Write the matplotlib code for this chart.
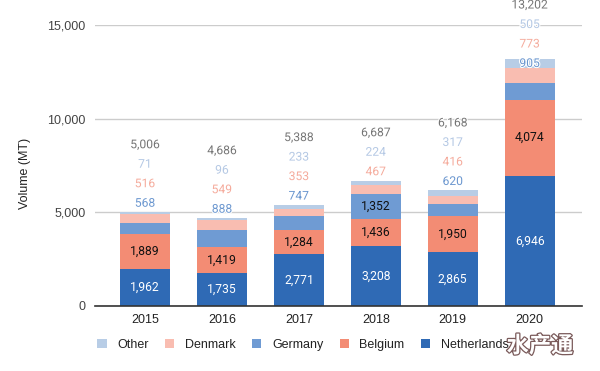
import matplotlib
matplotlib.use("Agg")
import matplotlib.pyplot as plt
from matplotlib.patches import Patch
import matplotlib.patheffects as pe

years = ["2015", "2016", "2017", "2018", "2019", "2020"]
netherlands = [1962, 1735, 2771, 3208, 2865, 6946]
belgium = [1889, 1419, 1284, 1436, 1950, 4074]
germany = [568, 888, 747, 1352, 620, 905]
denmark = [516, 549, 353, 467, 416, 773]
other = [71, 96, 233, 224, 317, 505]
totals = [5006, 4686, 5388, 6687, 6168, 13202]

series = [("Netherlands", netherlands, "#2f6ab5", "white"),
          ("Belgium", belgium, "#f38c74", "#111111"),
          ("Germany", germany, "#6f9bd3", "#111111"),
          ("Denmark", denmark, "#f9bdb1", "#111111"),
          ("Other", other, "#b8cde6", "#111111")]
outside_colors = {"Germany": "#6a96cf", "Denmark": "#f5ab9c", "Other": "#b4c8e4"}

W, H, DPI = 600, 371, 100
fig = plt.figure(figsize=(W / DPI, H / DPI), dpi=DPI)
ax = fig.add_axes([95 / W, 1 - 306 / H, (582 - 95) / W, (306 - 25) / H])

ax.set_ylim(0, 15000)
ax.set_xlim(-0.65, 5.68)
ax.set_yticks([0, 5000, 10000, 15000])
ax.set_yticklabels(["0", "5,000", "10,000", "15,000"], fontfamily="Liberation Sans",
                   fontsize=9, color="#444444")
ax.set_xticks(range(len(years)))
ax.set_xticklabels(years, fontfamily="Liberation Sans", fontsize=9, color="#222222")
ax.tick_params(axis="both", length=0)
ax.tick_params(axis="y", pad=7)
ax.tick_params(axis="x", pad=6)
ax.grid(axis="y", color="#cccccc", linewidth=1)
ax.set_axisbelow(True)
for s in ["top", "right", "left"]:
    ax.spines[s].set_visible(False)
ax.spines["bottom"].set_color("#333333")
ax.spines["bottom"].set_linewidth(1.2)
fig.text(25 / W, 1 - 173 / H, "Volume (MT)", rotation=90, ha="center", va="center",
         fontfamily="Liberation Sans", fontsize=9, color="#222222")

x = list(range(len(years)))
bottoms = [0] * len(years)
width = 0.65
lfont = dict(fontfamily="Roboto", fontsize=8.7)
outside = [[] for _ in years]
for name, vals, col, tcol in series:
    ax.bar(x, vals, width, bottom=bottoms, color=col, edgecolor="none", zorder=2)
    for i, v in enumerate(vals):
        if name in ("Netherlands", "Belgium") or v >= 1000:
            ax.text(i, bottoms[i] + v / 2, f"{v:,}", ha="center", va="center",
                    color=tcol, zorder=3, **lfont)
        else:
            outside[i].append((f"{v:,}", outside_colors[name]))
    bottoms = [b + v for b, v in zip(bottoms, vals)]

fig.canvas.draw()
for i in x:
    labels = outside[i] + [(f"{totals[i]:,}", "#757575")]
    top_px = ax.transData.transform((i, sum(s[1][i] for s in series)))[1]
    offsets = [9 + 19.5 * k for k in range(len(labels))]
    max_off = (H - 5) - top_px
    shift = max(0, offsets[-1] - max_off)
    for (txt, c), off in zip(labels, offsets):
        ax.annotate(txt, xy=(i, bottoms[i]), xytext=(0, off - shift), textcoords="offset pixels",
                    ha="center", va="center", color=c, zorder=4, annotation_clip=False,
                    path_effects=[pe.withStroke(linewidth=1.5, foreground="white")], **lfont)

handles = [Patch(facecolor=col, edgecolor="none", label=name) for name, _, col, _ in reversed(series)]
leg = fig.legend(handles=handles, loc="center left", bbox_to_anchor=(86 / W, 1 - 345 / H),
                 ncol=5, frameon=False, handlelength=0.75, handleheight=0.75,
                 handletextpad=0.85, columnspacing=1.3,
                 prop={"family": "Liberation Sans", "size": 9})
for t in leg.get_texts():
    t.set_color("#222222")

fig.text(540 / W, 1 - 346 / H, "水产通", ha="center", va="center", fontsize=16,
         fontfamily="Noto Sans CJK SC", fontweight="bold", color="white", zorder=10,
         path_effects=[pe.withStroke(linewidth=1.8, foreground="#7a5a5a")])

fig.savefig("out.png", dpi=DPI)
